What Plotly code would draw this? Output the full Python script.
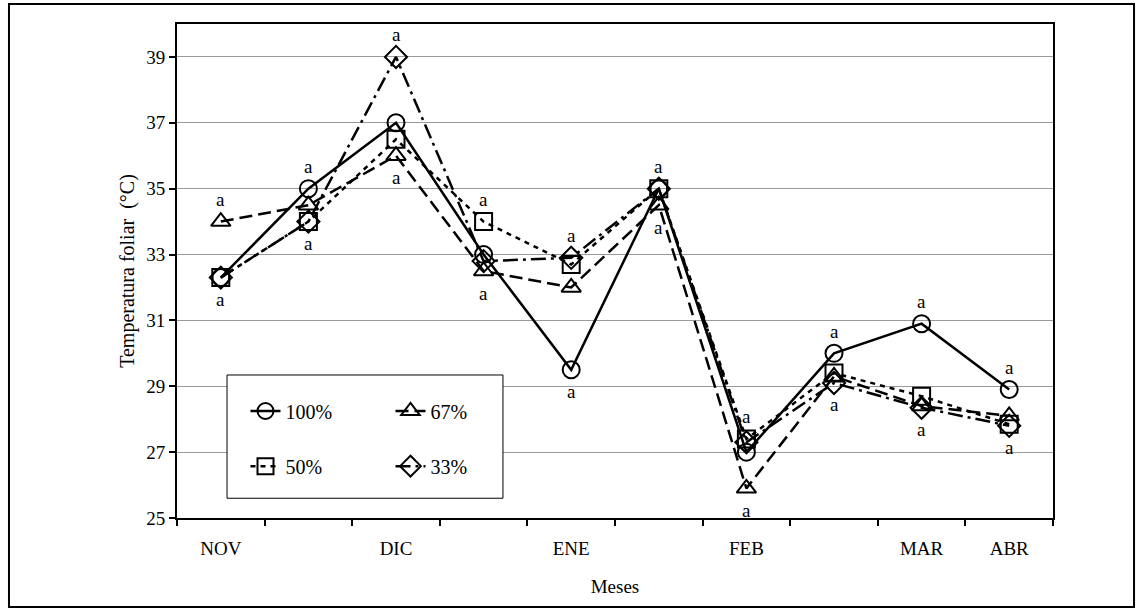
import plotly.graph_objects as go

# Sampling dates (10 evaluations, only some carry a month label)
x_pos = list(range(10))
tick_pos = [0, 2, 4, 6, 8, 9]
tick_text = ["NOV", "DIC", "ENE", "FEB", "MAR", "ABR"]

# Leaf temperature (°C) per irrigation treatment
t100 = [32.3, 35.0, 37.0, 33.0, 29.5, 35.0, 27.0, 30.0, 30.9, 28.9]
t67 = [34.0, 34.5, 36.0, 32.5, 32.0, 34.5, 25.9, 29.3, 28.4, 28.1]
t50 = [32.3, 34.0, 36.5, 34.0, 32.7, 35.0, 27.4, 29.4, 28.7, 27.85]
t33 = [32.3, 34.0, 39.0, 32.8, 32.9, 35.0, 27.3, 29.1, 28.35, 27.8]

series = [
    ("100%", t100, "circle-open", "solid", "legend"),
    ("67%", t67, "triangle-up-open", "13px,6px", "legend"),
    ("50%", t50, "square-open", "5px,5px", "legend2"),
    ("33%", t33, "diamond-open", "15px,5px,3px,5px", "legend2"),
]

FONT = "Liberation Serif"

fig = go.Figure()
for name, vals, sym, dash, lg in series:
    fig.add_trace(go.Scatter(
        x=x_pos, y=vals, name=name, mode="lines+markers",
        line=dict(color="black", width=2.5, dash=dash),
        marker=dict(symbol=sym, size=17, color="black",
                    line=dict(color="black", width=2)),
        legend=lg,
    ))

# Significance letters above the highest and below the lowest mean
annotations = []
for i in x_pos:
    vals = [t100[i], t67[i], t50[i], t33[i]]
    for yv, shift in ((max(vals), 22), (min(vals), -22)):
        annotations.append(dict(
            x=i, y=yv, text="a", showarrow=False, yshift=shift,
            font=dict(family=FONT, size=19, color="black"),
        ))

shapes = [
    # legend frame
    dict(type="rect", xref="paper", yref="paper",
         x0=0.0571, x1=0.3721, y0=0.040, y1=0.2895,
         line=dict(color="black", width=1), fillcolor="white", layer="above"),
    # outer frame around the whole chart
    dict(type="rect", xref="paper", yref="paper",
         x0=-0.1918, x1=1.0925, y0=-0.180, y1=1.0405,
         line=dict(color="black", width=2), fillcolor="rgba(0,0,0,0)"),
]

legend_common = dict(
    orientation="h", xanchor="left", yanchor="middle",
    bgcolor="rgba(0,0,0,0)", borderwidth=0,
    font=dict(family=FONT, size=20, color="black"),
    entrywidth=100, entrywidthmode="pixels",
)

fig.update_layout(
    width=1138, height=611,
    margin=dict(l=177, r=85, t=24, b=93),
    paper_bgcolor="white", plot_bgcolor="white",
    font=dict(family=FONT, size=19, color="black"),
    showlegend=True,
    legend=dict(x=0.0782, y=0.2166, **legend_common),
    legend2=dict(x=0.0782, y=0.105, **legend_common),
    xaxis=dict(
        range=[-0.5, 9.5], tickvals=tick_pos, ticktext=tick_text,
        ticks="", showgrid=False, zeroline=False,
        showline=True, linecolor="black", linewidth=2, mirror=True,
        tickfont=dict(family=FONT, size=19), ticklabelstandoff=12,
        minor=dict(tickvals=[i - 0.5 for i in range(11)], ticks="outside",
                   ticklen=6, tickwidth=1.5, tickcolor="black", showgrid=False),
        title=dict(text="Meses", standoff=22, font=dict(family=FONT, size=19)),
    ),
    yaxis=dict(
        range=[25, 40], tickvals=[25, 27, 29, 31, 33, 35, 37, 39],
        ticks="outside", ticklen=6, tickwidth=1.5, tickcolor="black",
        showgrid=True, gridcolor="#9a9a9a", gridwidth=1, zeroline=False,
        showline=True, linecolor="black", linewidth=2, mirror=True,
        tickfont=dict(family=FONT, size=19),
        title=dict(text="Temperatura foliar  (°C)", standoff=6,
                   font=dict(family=FONT, size=20)),
    ),
    annotations=annotations,
    shapes=shapes,
)

fig.write_html("out.html")
